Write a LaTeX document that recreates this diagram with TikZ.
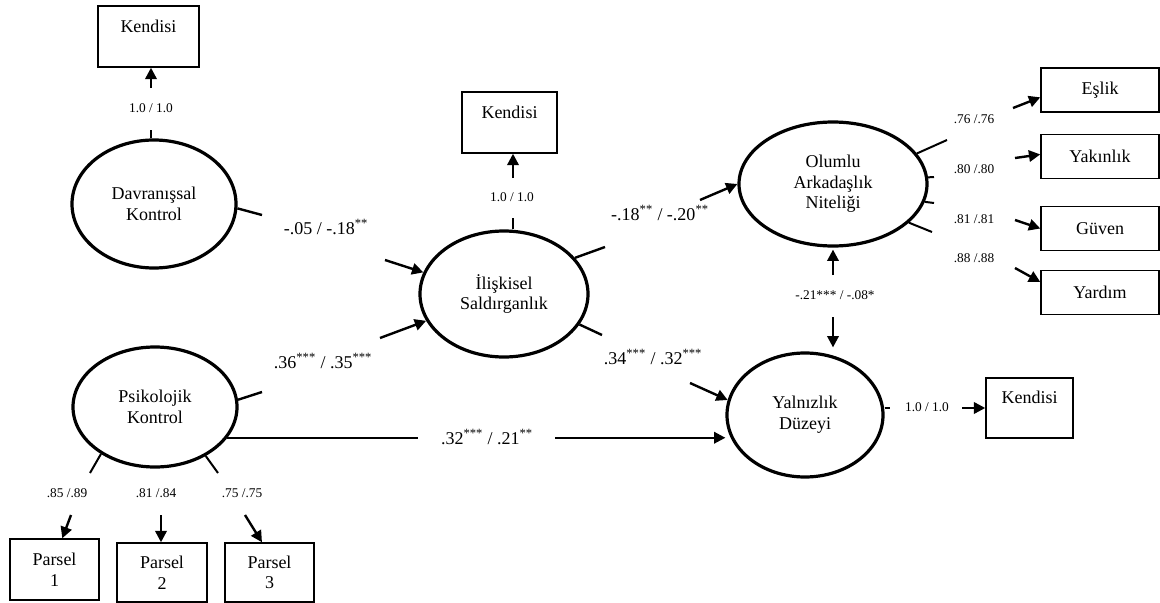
\documentclass[tikz,border=0pt]{standalone}
\usepackage{fontspec}
\setmainfont{Liberation Serif}
\usetikzlibrary{arrows.meta,shapes.geometric}
\begin{document}
\begin{tikzpicture}[x=0.75pt,y=-0.75pt,
  latent/.style={ellipse,draw,line width=2.4pt,inner sep=0pt,align=center,font=\fontsize{13.5pt}{15.5pt}\selectfont},
  obs/.style={rectangle,draw,line width=1.1pt,inner sep=0pt,align=center,font=\fontsize{13.5pt}{15.5pt}\selectfont},
  rbox/.style={obs,minimum width=88.5pt,minimum height=33pt},
  conn/.style={line width=1.8pt},
  stub/.style={line width=1.5pt},
  arr/.style={line width=1.8pt,-{Triangle[length=8.5pt,width=8.5pt]}},
  coef/.style={font=\fontsize{13.5pt}{15.5pt}\selectfont,inner sep=1pt},
  load/.style={font=\fontsize{10pt}{12pt}\selectfont,inner sep=1pt}
]
\useasboundingbox (0,0) rectangle (1160,603);

% nodes
\node[obs,minimum width=75.75pt,minimum height=45.75pt] (k1) at (148.5,36.5) {Kendisi\\\mbox{}};
\node[latent,minimum width=123pt,minimum height=96pt] (dav) at (154,204) {Davranışsal\\Kontrol};
\node[latent,minimum width=123pt,minimum height=90pt] (psi) at (155,407) {Psikolojik\\Kontrol};
\node[latent,minimum width=126pt,minimum height=94.5pt] (ili) at (504,294) {İlişkisel\\Saldırganlık};
\node[obs,minimum width=71.25pt,minimum height=45.75pt] (k2) at (509.5,122.5) {Kendisi\\\mbox{}};
\node[latent,minimum width=141pt,minimum height=93pt] (olu) at (833,184) {Olumlu\\Arkadaşlık\\Niteliği};
\node[latent,minimum width=117pt,minimum height=93pt] (yal) at (805,415) {Yalnızlık\\Düzeyi};
\node[obs,minimum width=65.25pt,minimum height=45pt] (k3) at (1029.5,408) {Kendisi\\\mbox{}};
\node[rbox] (esl) at (1100,90) {Eşlik};
\node[rbox] (yak) at (1100,156.5) {Yakınlık};
\node[rbox] (guv) at (1100,228.5) {Güven};
\node[rbox] (yar) at (1100,292.5) {Yardım};
\node[obs,minimum width=66.75pt,minimum height=45.75pt] (p1) at (54.5,569.5) {Parsel\\1};
\node[obs,minimum width=67.5pt,minimum height=44.25pt] (p2) at (162,572.5) {Parsel\\2};
\node[obs,minimum width=66.75pt,minimum height=44.25pt] (p3) at (269.5,572.5) {Parsel\\3};

% Davranissal -> Kendisi
\coordinate (d1) at (151,130);
\coordinate (d2) at (151,88);
\draw[conn] (d1 |- dav.north) -- (d1);
\draw[arr] (d2) -- (d2 |- k1.south);
\node[load] (l1) at (151,108) {1.0 / 1.0};

% Davranissal -> Iliskisel
\coordinate (d3) at (262,215);
\coordinate (d4) at (385,260);
\draw[conn] (dav.-3) -- (d3);
\draw[arr] (d4) -- (ili.165);
\node[coef] (c1) at (326,227) {-.05 / -.18\textsuperscript{**}};

% Psikolojik -> Iliskisel
\coordinate (pa) at (262,392);
\coordinate (pb) at (380,338);
\draw[conn] (psi.5) -- (pa);
\draw[arr] (pb) -- (ili.199);
\node[coef] (c2) at (323,361) {.36\textsuperscript{***} / .35\textsuperscript{***}};

% Psikolojik -> Yalnizlik
\coordinate (pc) at (418,437);
\coordinate (pd) at (555,437);
\draw[conn] (psi.-23) -- (psi.-23 -| pc);
\draw[arr] (psi.-23 -| pd) -- (yal.west |- psi.-23);
\node[coef] (c3) at (487,437) {.32\textsuperscript{***} / .21\textsuperscript{**}};

% Iliskisel -> Kendisi
\coordinate (i1) at (513,218);
\coordinate (i2) at (513,178);
\draw[conn] (i1 |- ili.north) -- (i1);
\draw[arr] (i2) -- (i2 |- k2.south);
\node[load] (l2) at (512,197) {1.0 / 1.0};

% Iliskisel -> Olumlu
\coordinate (i3) at (605,247);
\coordinate (i4) at (700,200);
\draw[conn] (ili.27) -- (i3);
\draw[arr] (i4) -- (olu.west);
\node[coef] (c4) at (660,213) {-.18\textsuperscript{**} / -.20\textsuperscript{**}};

% Iliskisel -> Yalnizlik
\coordinate (i5) at (602,335);
\coordinate (i6) at (690,383);
\draw[conn] (ili.-22) -- (i5);
\draw[arr] (i6) -- (yal.169);
\node[coef] (c5) at (653,357) {.34\textsuperscript{***} / .32\textsuperscript{***}};

% Olumlu <-> Yalnizlik
\coordinate (o1) at (833,275);
\coordinate (o2) at (833,317);
\draw[arr,shorten >=1.5pt] (o1) -- (olu.south);
\draw[arr,shorten >=6pt] (o2) -- (o2 |- yal.65);
\node[load] (l3) at (835,295) {-.21*** / -.08*};

% Olumlu -> indicators
\coordinate (s1) at (947,140);
\coordinate (s2) at (934,177);
\coordinate (s3) at (934,203);
\coordinate (s4) at (932,232);
\draw[stub] (olu.20) -- (s1);
\draw[stub] (olu.4) -- (s2);
\draw[stub] (olu.-11) -- (s3);
\draw[stub] (olu.-27) -- (s4);
\coordinate (a1) at (1013,108);
\coordinate (a2) at (1015,158);
\coordinate (a3) at (1015,220);
\coordinate (a4) at (1015,268);
\draw[arr] (a1) -- (esl.187);
\draw[arr] (a2) -- (yak.178);
\draw[arr] (a3) -- (guv.west);
\draw[arr] (a4) -- (yar.170);
\node[load] (l4) at (974,119) {.76 /.76};
\node[load] (l5) at (974,169) {.80 /.80};
\node[load] (l6) at (974,219) {.81 /.81};
\node[load] (l7) at (974,258) {.88 /.88};

% Yalnizlik -> Kendisi
\coordinate (y1) at (890,408);
\coordinate (y2) at (962,408);
\draw[conn] (yal.east |- y1) -- (y1);
\draw[arr] (y2) -- (k3.west);
\node[load] (l8) at (927,407) {1.0 / 1.0};

% Psikolojik -> Parsels
\coordinate (q1) at (90,473);
\coordinate (q2) at (218,473);
\draw[stub] (psi.221) -- (q1);
\draw[stub] (psi.-44) -- (q2);
\coordinate (r1) at (71,515);
\coordinate (r2) at (161,515);
\coordinate (r3) at (245,515);
\draw[arr] (r1) -- (p1.76);
\draw[arr] (r2) -- (r2 |- p2.north);
\draw[arr] (r3) -- (p3.104);
\node[load] (l9) at (67,493) {.85 /.89};
\node[load] (l10) at (156,493) {.81 /.84};
\node[load] (l11) at (242,493) {.75 /.75};
\end{tikzpicture}
\end{document}
